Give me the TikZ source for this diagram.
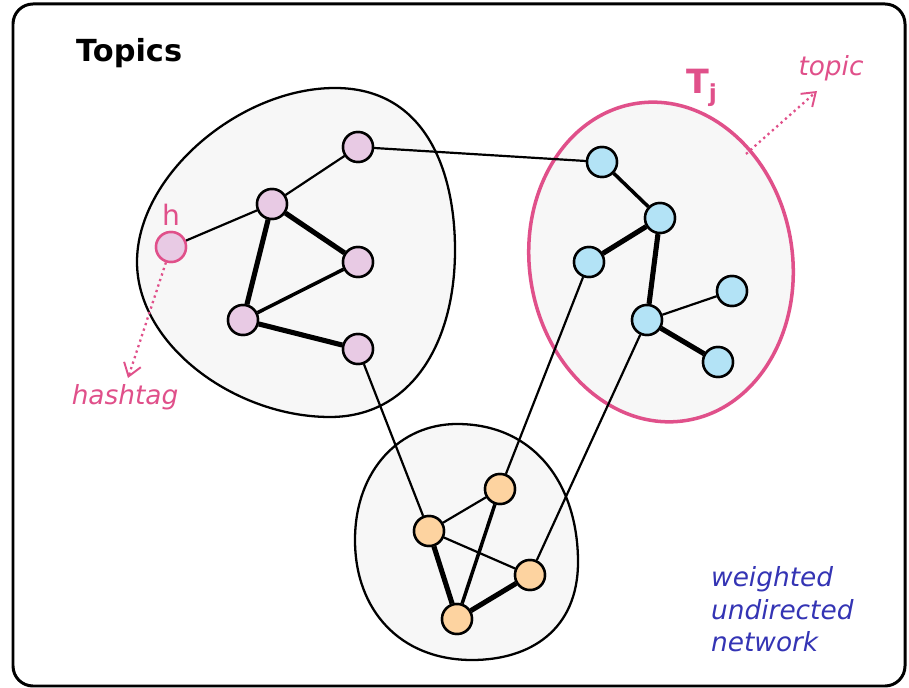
\documentclass[tikz,border=0pt]{standalone}
\usepackage{fontspec}
\setmainfont{DejaVu Sans}
\usetikzlibrary{arrows.meta}
\definecolor{accent}{HTML}{E0508A}
\definecolor{pfill}{HTML}{E8CAE4}
\definecolor{bfill}{HTML}{B3E3F6}
\definecolor{ofill}{HTML}{FDD3A0}
\definecolor{blobfill}{HTML}{F7F7F7}
\definecolor{netblue}{HTML}{3434B4}
\tikzset{
  vtx/.style={circle, draw=black, line width=1.4pt, minimum size=0.6cm, inner sep=0pt},
  pv/.style={vtx, fill=pfill},
  bv/.style={vtx, fill=bfill},
  ov/.style={vtx, fill=ofill},
  hv/.style={vtx, fill=pfill, draw=accent},
  thinE/.style={line width=1.25pt},
  midE/.style={line width=2pt},
  thickE/.style={line width=2.9pt},
  blob/.style={draw=black, line width=1.3pt, fill=blobfill},
  note/.style={text=accent, font=\itshape\fontsize{15}{18}\selectfont},
  pointer/.style={accent, line width=1.3pt, dotted, -{Straight Barb[length=2.5mm,width=3.5mm,line width=1.1pt]}}
}
\begin{document}
\begin{tikzpicture}[x=0.02cm,y=0.02cm]
\useasboundingbox (0,0) rectangle (909,-688);
\draw[line width=1.7pt, rounded corners=0.4cm] (13,-4) rectangle (905,-686);
\node[anchor=base west, font=\bfseries\fontsize{17.3}{21}\selectfont] (title) at (70,-62) {Topics};

% blobs
\draw[blob] (335,-88) .. controls (425,-88) and (455,-170) .. (455,-250)
  .. controls (455,-345) and (410,-417) .. (330,-417)
  .. controls (235,-417) and (137,-345) .. (137,-262)
  .. controls (137,-175) and (240,-88) .. cycle;
\draw[blob] (457,-424) .. controls (535,-424) and (578,-485) .. (578,-562)
  .. controls (578,-630) and (530,-660) .. (472,-660)
  .. controls (400,-660) and (355,-610) .. (355,-540)
  .. controls (355,-470) and (400,-424) .. cycle;
\draw[draw=accent, line width=2pt, fill=blobfill, rotate around={9:(661,-262)}] (661,-262) ellipse [x radius=2.63cm, y radius=3.21cm];

% nodes
\node[pv] (a) at (358,-147) {};
\node[pv] (b) at (272,-204) {};
\node[pv] (c) at (358,-262) {};
\node[pv] (d) at (243,-320) {};
\node[pv] (e) at (358,-349) {};
\node[hv] (h) at (171,-247) {};
\node[bv] (f) at (602,-162) {};
\node[bv] (g) at (660,-218) {};
\node[bv] (i) at (589,-262) {};
\node[bv] (k) at (647,-320) {};
\node[bv] (l) at (732,-291) {};
\node[bv] (m) at (718,-362) {};
\node[ov] (n) at (500,-489) {};
\node[ov] (o) at (429,-531) {};
\node[ov] (p) at (530,-575) {};
\node[ov] (q) at (457,-619) {};

% edges
\draw[thinE] (a) -- (b);
\draw[thinE] (h) -- (b);
\draw[thickE] (b) -- (c);
\draw[thickE] (b) -- (d);
\draw[midE] (d) -- (c);
\draw[thickE] (d) -- (e);
\draw[thinE] (a) -- (f);
\draw[thinE] (e) -- (o);
\draw[midE] (f) -- (g);
\draw[thickE] (g) -- (i);
\draw[thickE] (g) -- (k);
\draw[thinE] (k) -- (l);
\draw[thickE] (k) -- (m);
\draw[thinE] (i) -- (n);
\draw[thinE] (k) -- (p);
\draw[thinE] (o) -- (n);
\draw[thinE] (o) -- (p);
\draw[thickE] (o) -- (q);
\draw[midE] (n) -- (q);
\draw[thickE] (q) -- (p);

% redraw nodes on top of edges
\foreach \nm/\st in {a/pv,b/pv,c/pv,d/pv,e/pv,h/hv,f/bv,g/bv,i/bv,k/bv,l/bv,m/bv,n/ov,o/ov,p/ov,q/ov}
  \node[\st] at (\nm) {};

% labels
\node[text=accent, font=\fontsize{16}{18}\selectfont] (hl) at (171,-215) {h};
\node[note] (hash) at (125,-397) {hashtag};
\coordinate (hend) at (128,-378);
\draw[pointer] (h) -- (hend);
\node[text=accent, font=\bfseries\fontsize{19}{22}\selectfont] (tj) at (702,-88) {T\textsubscript{j}};
\node[note] (topic) at (831,-68) {topic};
\coordinate (tstart) at (746,-154);
\coordinate (tend) at (817,-91);
\draw[pointer] (tstart) -- (tend);
\node[anchor=north west, align=left, text=netblue, font=\itshape\fontsize{15}{18.7}\selectfont] (net) at (705,-560) {weighted\\undirected\\network};
\end{tikzpicture}
\end{document}
